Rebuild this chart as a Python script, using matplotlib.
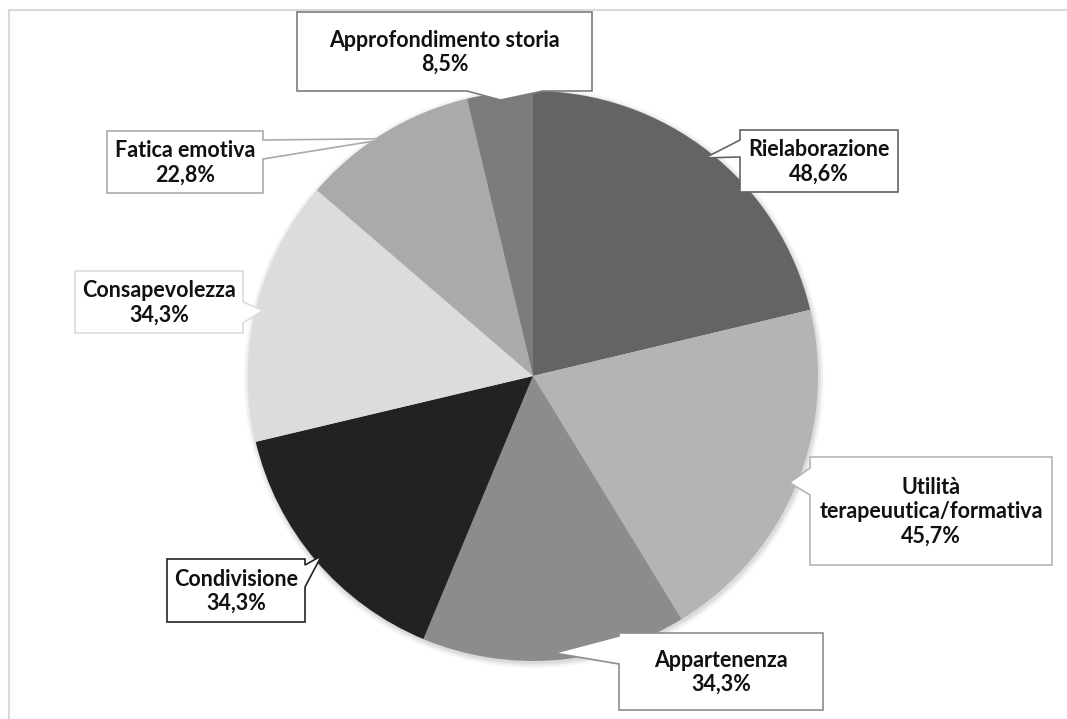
import numpy as np
import matplotlib
matplotlib.use("Agg")
import matplotlib.pyplot as plt
from matplotlib.patches import Polygon, Rectangle, Circle

# ---- data ----
categories = ["Rielaborazione", "Utilità\nterapeuutica/formativa", "Appartenenza",
              "Condivisione", "Consapevolezza", "Fatica emotiva", "Approfondimento storia"]
values = [48.6, 45.7, 34.3, 34.3, 34.3, 22.8, 8.5]
colors = ["#646464", "#b4b4b4", "#8c8c8c", "#222222", "#dcdcdc", "#aaaaaa", "#7c7c7c"]

# ---- layout (image pixel coords, y down) ----
W, H = 1067, 719
CX, CY, R = 533, 376, 285
# box (x0, y0, x1, y1), side for pointer base, base range along that side
boxes = [
    ((740, 130, 898, 192), "left", (140, 157)),
    ((810, 457, 1052, 565), "left", (468, 495)),
    ((619, 633, 823, 710), "left", (636, 664)),
    ((167, 559, 305, 622), "right", (565, 587)),
    ((75, 271, 243, 333), "right", (302, 323)),
    ((107, 131, 263, 193), "right", (140, 159)),
    ((297, 12, 592, 91), "bottom", (467, 543)),
]

def fy(y):
    return H - y

fig = plt.figure(figsize=(W / 100, H / 100), dpi=100)
ax = fig.add_axes([0, 0, 1, 1])

# soft shadow
for i, a in enumerate([0.05, 0.04, 0.03, 0.02]):
    ax.add_patch(Circle((CX + 1, fy(CY) - 2), R + 1 + i * 1.5, color="black",
                        alpha=a, lw=0, zorder=0))

wedges, _ = ax.pie(values, colors=colors, startangle=90, counterclock=False,
                   center=(CX, fy(CY)), radius=R,
                   wedgeprops=dict(linewidth=0))
for w in wedges:
    w.set_zorder(1)

ax.set_xlim(0, W)
ax.set_ylim(0, H)
ax.set_aspect("equal")
ax.axis("off")

# outer border
ax.add_patch(Rectangle((9, fy(W)), W + 20, fy(10) - fy(W), fill=False,
                       edgecolor="#d9d9d9", lw=1.5, zorder=0.5))

for w, cat, val, col, (box, side, (b0, b1)) in zip(wedges, categories, values, colors, boxes):
    mid = np.deg2rad((w.theta1 + w.theta2) / 2)
    tx = CX + R * 0.975 * np.cos(mid)
    ty = fy(CY) + R * 0.975 * np.sin(mid)
    x0, y0, x1, y1 = box
    X0, X1 = x0, x1
    Y0, Y1 = fy(y0), fy(y1)  # Y0 top, Y1 bottom
    if side == "left":
        pts = [(X0, Y0), (X1, Y0), (X1, Y1), (X0, Y1),
               (X0, fy(b1)), (tx, ty), (X0, fy(b0))]
    elif side == "right":
        pts = [(X0, Y0), (X1, Y0), (X1, fy(b0)), (tx, ty), (X1, fy(b1)),
               (X1, Y1), (X0, Y1)]
    else:  # bottom
        pts = [(X0, Y0), (X1, Y0), (X1, Y1), (b1, Y1), (tx, ty), (b0, Y1), (X0, Y1)]
    ax.add_patch(Polygon(pts, closed=True, facecolor="white", edgecolor=col,
                         lw=1.2, joinstyle="miter", zorder=3))
    label = cat + "\n" + f"{val:.1f}".replace(".", ",") + "%"
    ax.text((X0 + X1) / 2, (Y0 + Y1) / 2 - 1, label, ha="center", va="center",
            fontsize=15.5, fontweight="bold", family=["Lato", "DejaVu Sans"],
            color="#111111", linespacing=1.2, zorder=4)

fig.savefig("out.png", dpi=100, facecolor="white")
